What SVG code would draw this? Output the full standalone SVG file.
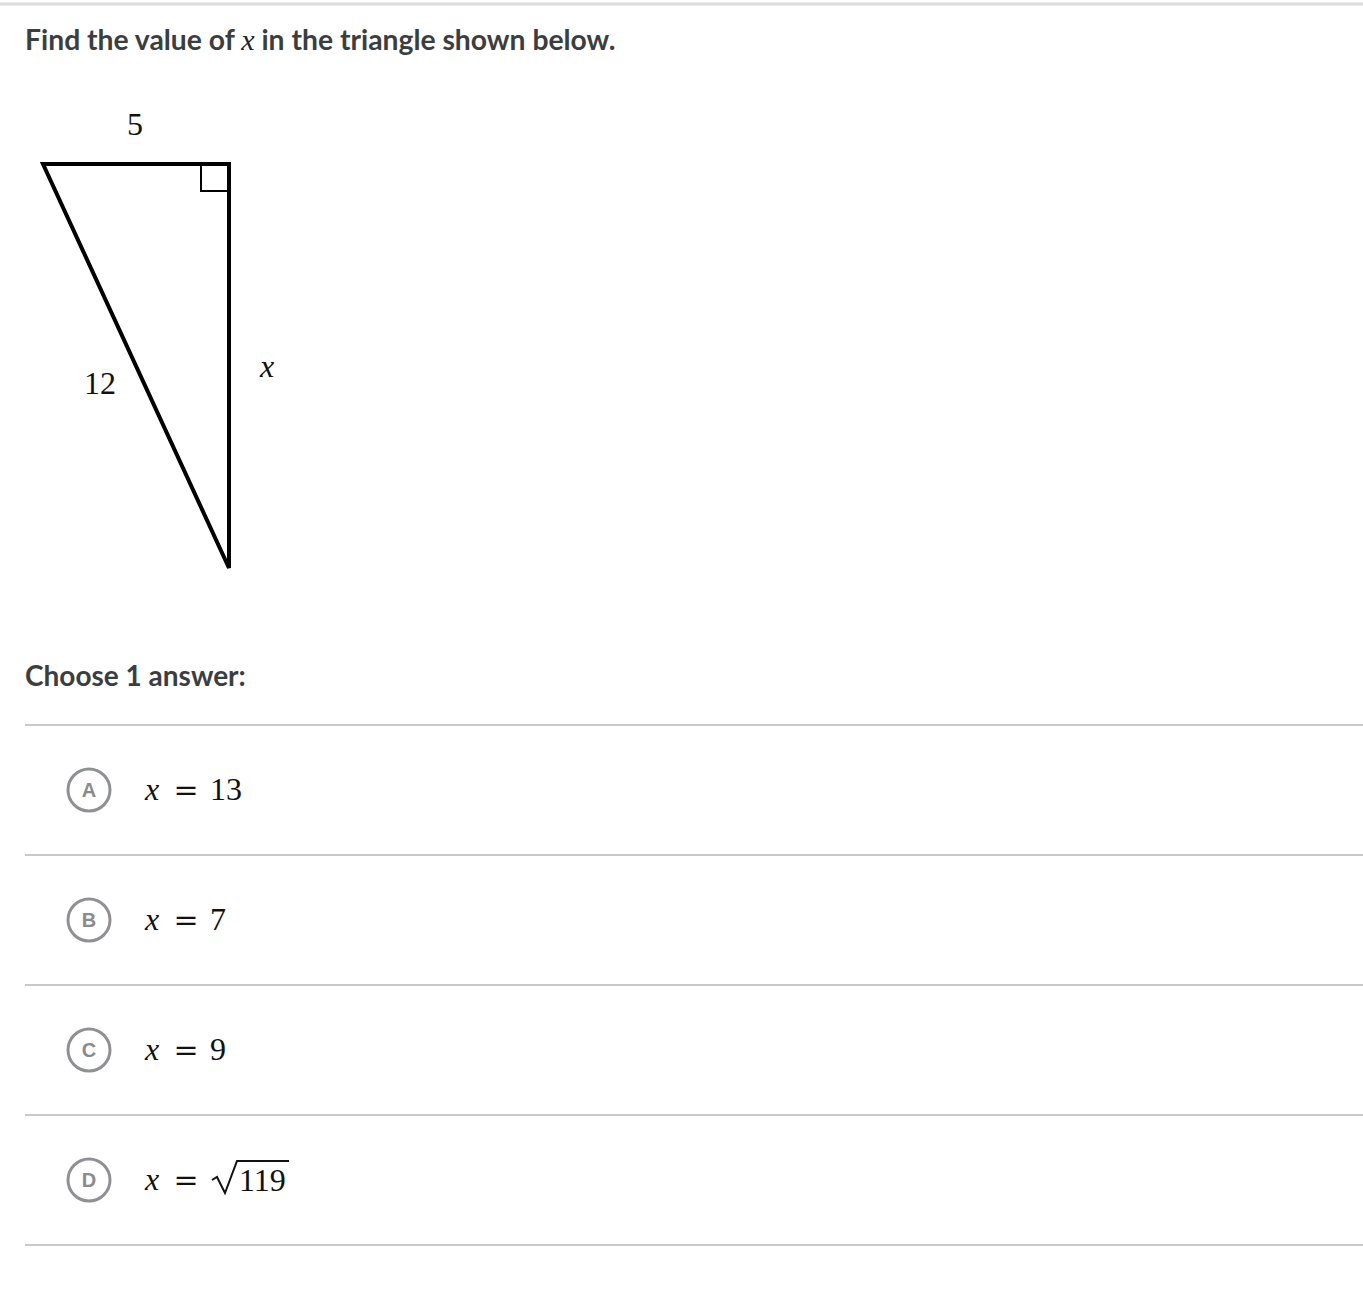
<svg xmlns="http://www.w3.org/2000/svg" width="1363" height="1298" viewBox="0 0 1363 1298">
<style>
.ui{font-family:Lato,"Noto Sans",sans-serif;font-weight:bold;fill:#3b3e40}
.m{font-family:"Liberation Serif","DejaVu Serif",serif;font-size:32px;fill:#111}
.mi{font-style:italic}
.eq{font-family:"DejaVu Serif",serif;font-size:30px;fill:#111}
.sep{stroke:#c8c8c8;stroke-width:2}
.opt{fill:#fff;stroke:#8e9094;stroke-width:3}
.ol{font-family:"Liberation Sans",Arial,sans-serif;font-weight:bold;font-size:20px;fill:#888b8f;text-anchor:middle}
</style>
<rect width="1363" height="1298" fill="#fff"/>
<line x1="0" y1="4" x2="1363" y2="4" stroke="#dcdcdc" stroke-width="3"/>
<text class="ui" x="25" y="50" font-size="28.3">Find the value of <tspan font-family="Liberation Serif,serif" font-style="italic" font-weight="normal" font-size="30" fill="#222">x</tspan> in the triangle shown below.</text>
<g id="triangle">
<polygon points="43,164 229,164 229,568" fill="none" stroke="#000" stroke-width="4" stroke-linejoin="miter"/>
<polyline points="201,164 201,191 229,191" fill="none" stroke="#000" stroke-width="2"/>
</g>
<g id="labels">
<text class="m" x="135" y="135" text-anchor="middle">5</text>
<text class="m" x="100" y="394" text-anchor="middle">12</text>
<text class="m mi" x="267" y="377" text-anchor="middle">x</text>
</g>
<text class="ui" x="25" y="686" font-size="28">Choose 1 answer:</text>
<g id="separators">
<line class="sep" x1="25" y1="725" x2="1363" y2="725"/>
<line class="sep" x1="25" y1="855" x2="1363" y2="855"/>
<line class="sep" x1="25" y1="985" x2="1363" y2="985"/>
<line class="sep" x1="25" y1="1115" x2="1363" y2="1115"/>
<line class="sep" x1="25" y1="1245" x2="1363" y2="1245"/>
</g>
<g id="optA">
<circle class="opt" cx="89" cy="790" r="21"/>
<text class="ol" x="89" y="797">A</text>
<text class="m mi" x="145" y="800">x</text>
<text class="eq" x="186" y="800" text-anchor="middle">=</text>
<text class="m" x="210" y="800">13</text>
</g>
<g id="optB">
<circle class="opt" cx="89" cy="920" r="21"/>
<text class="ol" x="89" y="927">B</text>
<text class="m mi" x="145" y="930">x</text>
<text class="eq" x="186" y="930" text-anchor="middle">=</text>
<text class="m" x="210" y="930">7</text>
</g>
<g id="optC">
<circle class="opt" cx="89" cy="1050" r="21"/>
<text class="ol" x="89" y="1057">C</text>
<text class="m mi" x="145" y="1060">x</text>
<text class="eq" x="186" y="1060" text-anchor="middle">=</text>
<text class="m" x="210" y="1060">9</text>
</g>
<g id="optD">
<circle class="opt" cx="89" cy="1180" r="21"/>
<text class="ol" x="89" y="1187">D</text>
<text class="m mi" x="145" y="1190">x</text>
<text class="eq" x="186" y="1190" text-anchor="middle">=</text>
<path d="M212,1180 L217,1177 L225,1193 L237,1161 L289,1161" fill="none" stroke="#111" stroke-width="2"/>
<text class="m" x="239" y="1191">119</text>
</g>
</svg>
